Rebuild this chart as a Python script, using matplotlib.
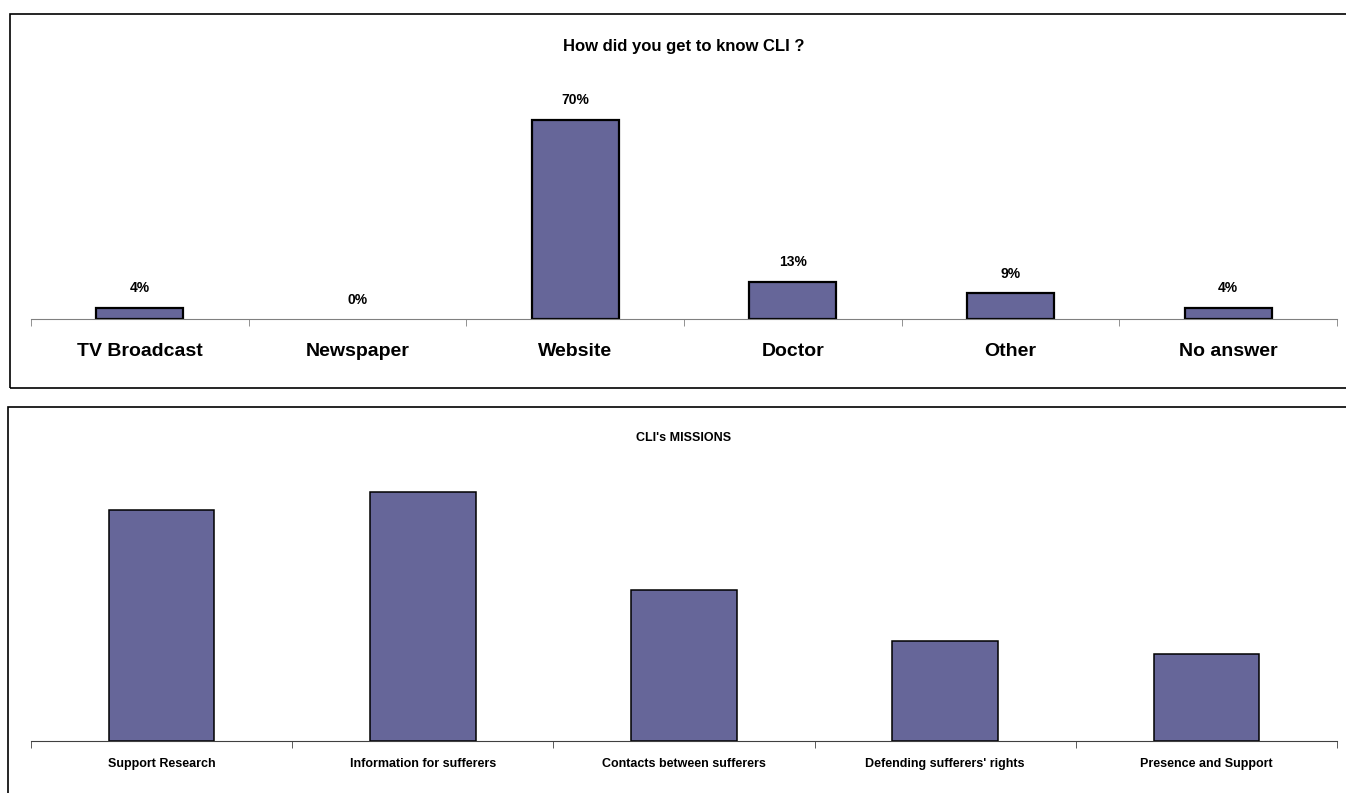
import numpy as np
import matplotlib.pyplot as plt
from matplotlib.patches import Rectangle

plt.rcParams['font.family'] = ['Liberation Sans', 'DejaVu Sans']

# top chart data
sources = ["TV Broadcast", "Newspaper", "Website", "Doctor", "Other", "No answer"]
source_pct = [4, 0, 70, 13, 9, 4]

# bottom chart data (no values printed)
missions = ["Support Research", "Information for sufferers", "Contacts between sufferers",
            "Defending sufferers' rights", "Presence and Support"]
mission_vals = [46.4, 50, 30.3, 20.1, 17.5]

bar_col = "#666699"

fig = plt.figure(figsize=(13.46, 7.93), dpi=100)

# panel frames
fig.patches.append(Rectangle((10 / 1346, 1 - 388 / 793), 1.1, (388 - 14) / 793,
                             transform=fig.transFigure, fill=False, ec="black", lw=1.2))
fig.patches.append(Rectangle((8 / 1346, -0.1), 1.1, 0.1 + (793 - 407) / 793,
                             transform=fig.transFigure, fill=False, ec="black", lw=1.2))

# ---- top chart
ax1 = fig.add_axes([31 / 1346, 1 - 319 / 793, (1337 - 31) / 1346, 259 / 793])
x1 = np.arange(len(sources))
bars = ax1.bar(x1, source_pct, width=0.4, color=bar_col, edgecolor="black", linewidth=1.6)
for b, v in zip(bars, source_pct):
    if v == 0:
        b.set_linewidth(0)
for xi, v in zip(x1, source_pct):
    ax1.annotate(f"{v}%", (xi, v), xytext=(0, 9), textcoords="offset points",
                 ha="center", va="bottom", fontsize=10, fontweight="bold")
ax1.set_xlim(-0.5, len(sources) - 0.5)
ax1.set_ylim(0, 91)
ax1.set_xticks(x1)
ax1.set_xticklabels(sources, fontsize=14, fontweight="bold")
ax1.set_xticks(np.arange(len(sources) + 1) - 0.5, minor=True)
ax1.tick_params(axis="x", which="major", length=0, pad=17)
ax1.tick_params(axis="x", which="minor", length=5, color="#808080", direction="out")
ax1.set_yticks([])
for s in ["top", "left", "right"]:
    ax1.spines[s].set_visible(False)
ax1.spines["bottom"].set_color("#808080")
ax1.patch.set_alpha(0)
fig.text(684 / 1346, 1 - 46 / 793, "How did you get to know CLI ?", ha="center", va="center",
         fontsize=12, fontweight="bold")

# ---- bottom chart
ax2 = fig.add_axes([31 / 1346, 1 - 741 / 793, (1337 - 31) / 1346, 286 / 793])
x2 = np.arange(len(missions))
ax2.bar(x2, mission_vals, width=0.405, color=bar_col, edgecolor="black", linewidth=1.1)
ax2.set_xlim(-0.5, len(missions) - 0.5)
ax2.set_ylim(0, 57.4)
ax2.set_xticks(x2)
ax2.set_xticklabels(missions, fontsize=9, fontweight="bold")
ax2.set_xticks(np.arange(len(missions) + 1) - 0.5, minor=True)
ax2.tick_params(axis="x", which="major", length=0, pad=12)
ax2.tick_params(axis="x", which="minor", length=5, color="#404040", direction="out")
ax2.set_yticks([])
for s in ["top", "left", "right"]:
    ax2.spines[s].set_visible(False)
ax2.spines["bottom"].set_color("#404040")
ax2.patch.set_alpha(0)
fig.text(684 / 1346, 1 - 438 / 793, "CLI's MISSIONS", ha="center", va="center",
         fontsize=9, fontweight="bold")

fig.savefig("out.png", dpi=100)
